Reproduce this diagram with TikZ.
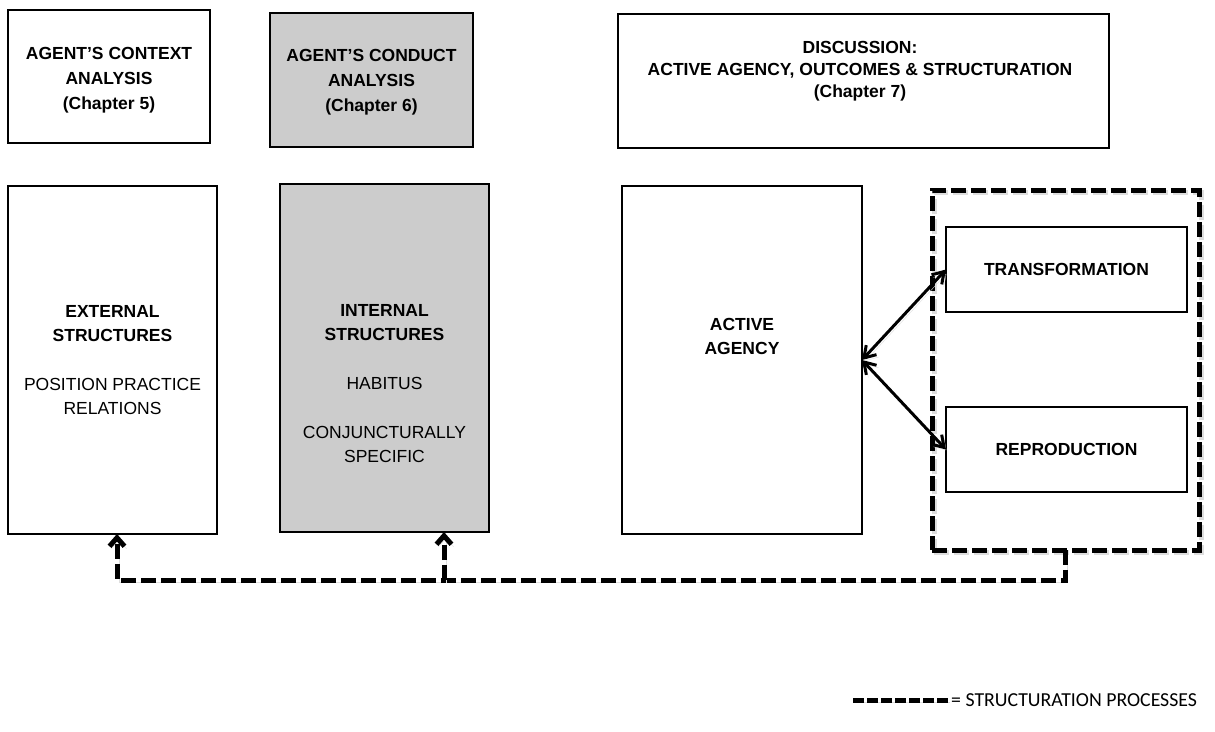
\documentclass[tikz,border=0pt]{standalone}
\usepackage{fontspec}
\setmainfont{Liberation Sans}
\newfontfamily\legendfont{Carlito}
\usetikzlibrary{arrows.meta}
\definecolor{panelgray}{RGB}{204,204,204}
\definecolor{shade}{RGB}{222,222,222}
\tikzset{
  box/.style={draw=black, line width=1.6pt, inner sep=0pt, outer sep=0pt},
  greybox/.style={box, fill=panelgray},
  lbl/.style={font=\fontsize{17.5}{25}\selectfont, align=center, inner sep=0pt, anchor=north},
  softshadow/.style={preaction={draw=shade, transform canvas={shift={(2pt,-2.5pt)}}}},
  structline/.style={line width=5pt, dash pattern=on 15pt off 5pt, softshadow},
  barb/.tip={Straight Barb[length=8.5pt, width=15pt]},
  linkbarb/.tip={Straight Barb[length=11pt, width=14pt]},
  structtip/.style={-barb},
  linkarrow/.style={line width=3pt, softshadow, linkbarb-linkbarb},
}
\begin{document}
\begin{tikzpicture}[x=1pt, y=-1pt]
\useasboundingbox (0,0) rectangle (1215,731);

% chapter headings
\node[box, minimum width=202pt, minimum height=133pt] (ctx) at (109,76.5) {};
\node[greybox, minimum width=203pt, minimum height=134pt] (cond) at (371.5,80) {};
\node[box, minimum width=491pt, minimum height=134pt] (disc) at (863.5,81) {};

\node[lbl] (ctxtext) at (109,47) {\textbf{AGENT’S CONTEXT}\\\textbf{ANALYSIS}\\\textbf{(Chapter 5)}};
\node[lbl] (condtext) at (371.5,49.5) {\textbf{AGENT’S CONDUCT}\\\textbf{ANALYSIS}\\\textbf{(Chapter 6)}};
\node[lbl, font=\fontsize{17.5}{22}\selectfont] (disctext) at (860,41)
  {\textbf{DISCUSSION:}\\\textbf{ACTIVE AGENCY, OUTCOMES \& STRUCTURATION}\\\textbf{(Chapter 7)}};

% structures and agency
\node[box, minimum width=209pt, minimum height=348pt] (ext) at (112.5,360) {};
\node[greybox, minimum width=209pt, minimum height=348pt] (int) at (384.5,358) {};
\node[box, minimum width=240pt, minimum height=348pt] (agency) at (742,360) {};

\node[lbl, font=\fontsize{17.5}{24.4}\selectfont] (exttext) at (112.5,305)
  {\textbf{EXTERNAL}\\\textbf{STRUCTURES}\\[24.4pt]POSITION PRACTICE\\RELATIONS};
\node[lbl, font=\fontsize{17.5}{24.4}\selectfont] (inttext) at (384.5,304)
  {\textbf{INTERNAL}\\\textbf{STRUCTURES}\\[24.4pt]HABITUS\\[24.4pt]CONJUNCTURALLY\\SPECIFIC};
\node[lbl, font=\fontsize{17.5}{24.4}\selectfont] (agtext) at (742,318)
  {\textbf{ACTIVE}\\\textbf{AGENCY}};

% outcomes
\node[box, line width=5pt, draw=black, dash pattern=on 15pt off 5pt, softshadow,
      minimum width=267pt, minimum height=360pt] (outcomes) at (1065.5,370) {};
\node[box, minimum width=241pt, minimum height=85pt, font=\fontsize{17.5}{22}\selectfont\bfseries]
  (trans) at (1066.5,269.5) {TRANSFORMATION};
\node[box, minimum width=241pt, minimum height=85pt, font=\fontsize{17.5}{22}\selectfont\bfseries]
  (repro) at (1066.5,449.5) {REPRODUCTION};

\draw[linkarrow] (agency.east) -- (trans.west);
\draw[linkarrow] (agency.east) -- (repro.west);

% structuration feedback
\coordinate (bus) at ([yshift=-30pt]outcomes.south);
\coordinate (tipext) at ([xshift=4.5pt]ext.south);
\coordinate (tipint) at ([xshift=59.5pt]int.south);
\draw[structline, structtip] (outcomes.south) -- (bus) -| (tipext);
\draw[structline, structtip] (tipint |- bus) -- (tipint);

% legend
\coordinate (legstart) at (853,700);
\coordinate (legend) at (948,700);
\draw[line width=5pt, dash pattern=on 10.5pt off 3.5pt, softshadow] (legstart) -- (legend);
\node[anchor=base west, inner sep=0pt, font=\legendfont\fontsize{19.8}{23}\selectfont] (legtext)
  at (951,706) {= STRUCTURATION PROCESSES};
\end{tikzpicture}
\end{document}
